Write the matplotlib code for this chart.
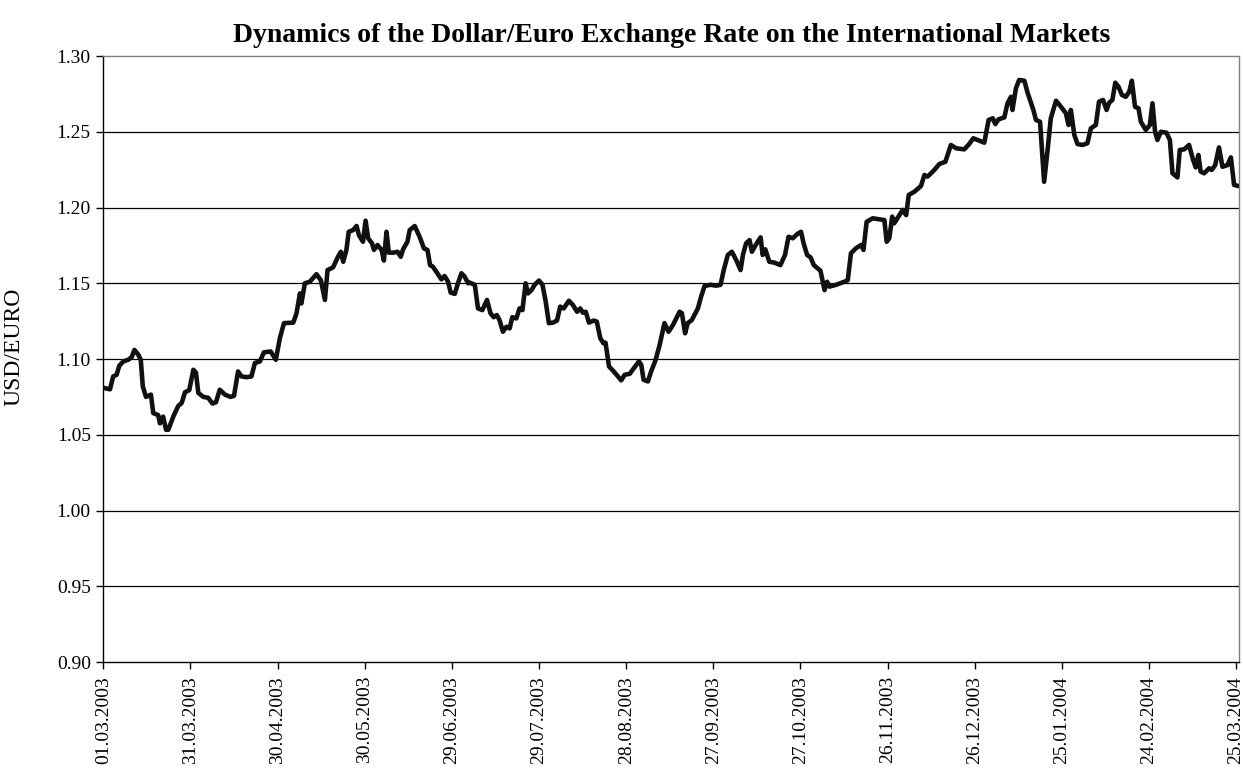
import matplotlib
matplotlib.use("Agg")
import matplotlib.pyplot as plt
import numpy as np

# Days since 01.03.2003
days = [0, 2.3, 3.4, 4.6, 5.5, 6.9, 8.6, 9.8, 10.7, 12.0, 12.9, 13.6, 14.7, 16.4, 17.2, 18.9, 19.5,
        20.6, 21.6, 22.4, 24.1, 25.8, 27.0, 28.1, 29.6, 31.0, 31.9, 32.7, 34.4, 36.1, 37.6, 38.8,
        40.1, 41.9, 43.8, 45.0, 46.4, 47.6, 49.3, 51.0, 52.2, 53.9, 55.3, 57.6, 59.4, 60.8, 62.2,
        65.4, 66.5, 67.7, 68.2, 69.4, 71.1, 73.4, 74.9, 76.3, 77.2, 79.1, 80.8, 81.8, 82.6, 83.7,
        84.5, 86.0, 87.2, 88.0, 89.4, 90.3, 91.2, 92.5, 93.2, 94.4, 95.8, 96.6, 97.5, 98.3, 99.8,
        101.3, 102.4, 103.2, 104.7, 105.5, 107.2, 108.9, 110.4, 111.6, 112.5, 113.5, 115.2, 116.4,
        117.5, 118.7, 119.6, 121.0, 122.1, 123.3, 124.4, 125.6,
        126.2, 127.9, 129.0, 130.5, 132.1, 133.3, 134.4, 135.5, 136.4, 137.6, 138.8, 139.9, 140.8,
        142.2, 143.3, 144.3, 145.4, 146.2, 147.4, 148.5, 150.0, 151.2, 152.3, 153.4, 154.8, 156.2,
        157.3, 158.5, 160.3, 161.7, 163.1, 164.2, 165.1, 166.1, 167.2, 168.8, 169.9, 171.1, 172.2,
        172.9, 174.1, 175.4, 177.2, 178.3, 179.5, 181.2, 182.9, 184.4, 185.2, 186.0, 187.5, 188.6,
        190.1, 191.5,
        193.2, 194.6, 196.1, 198.4, 199.2, 200.3, 201.2, 202.6, 204.7, 205.8, 207.0, 209.1, 211.0,
        212.5, 213.6, 215.0, 216.4, 217.9, 219.4, 220.2, 221.3, 222.5, 223.3, 224.8, 226.3, 227.0,
        227.9, 229.3, 231.1, 233.1, 234.7, 235.9, 237.4, 238.9, 240.2, 241.1, 242.3, 243.5, 244.6,
        246.9, 247.7, 248.3, 249.2, 250.0, 252.3, 255.1,
        256.3, 257.4, 259.1, 260.9, 261.7, 262.8, 264.9, 267.8, 268.9, 269.7, 270.6, 271.6, 272.3,
        274.1, 275.2, 276.4, 277.3, 279.2, 281.5, 282.7, 283.8, 286.1, 287.8, 289.9, 291.8, 293.6,
        296.4, 298.1, 299.5, 301.6, 303.3, 304.8, 306.2, 307.1, 308.2, 310.2, 311.3, 312.5, 313.0,
        314.2, 315.3, 317.1, 318.2,
        320.2, 321.1, 322.5, 323.9, 325.1, 326.2, 328.0, 329.7, 331.4, 332.3, 333.1, 334.3, 335.4,
        337.1, 338.8, 340.0, 341.7, 342.8, 344.2, 345.4, 346.3, 347.4, 348.4, 349.5, 350.7, 352.0,
        353.2, 354.1, 355.2, 356.4, 357.2, 358.9, 360.3, 361.2, 362.1, 362.9, 364.1, 366.0, 367.2,
        368.1, 369.8, 370.6, 372.1, 373.8, 375.2, 376.1, 377.0, 377.8, 379.0, 380.7, 381.6, 382.8,
        384.1, 385.3, 387.0, 388.2, 389.3, 390.8]

usd_euro = [1.081, 1.080, 1.0885, 1.0896, 1.0956, 1.0984, 1.0995, 1.1013, 1.106, 1.103, 1.0995,
            1.082, 1.075, 1.0765, 1.0643, 1.063, 1.0575, 1.062, 1.0533, 1.0533, 1.062, 1.069,
            1.071, 1.078, 1.0795, 1.0929, 1.091, 1.0777, 1.075, 1.0744, 1.0706, 1.0715, 1.0797,
            1.0765, 1.075, 1.0757, 1.0918, 1.0885, 1.088, 1.0885, 1.0974, 1.0984, 1.1044, 1.105,
            1.0995, 1.1138, 1.1237,
            1.124, 1.130, 1.1433, 1.1367, 1.150, 1.151, 1.156, 1.152, 1.139, 1.1587, 1.1605,
            1.1675, 1.1708, 1.1642, 1.172, 1.184, 1.1851, 1.1878, 1.1818, 1.1774, 1.1913, 1.1797,
            1.1764, 1.172, 1.1753, 1.172, 1.165, 1.184, 1.1702, 1.1702, 1.1708, 1.1675, 1.1724,
            1.1774, 1.1851, 1.1878, 1.1807, 1.173, 1.172, 1.162, 1.1609, 1.156, 1.1526, 1.1548,
            1.151, 1.1438, 1.143, 1.150, 1.1566, 1.1544, 1.150,
            1.1504, 1.149, 1.1334, 1.1323, 1.139, 1.1302, 1.1276, 1.129, 1.1257, 1.118, 1.1213,
            1.1202, 1.1276, 1.1268, 1.1334, 1.1323, 1.150, 1.1433, 1.1455, 1.149, 1.1518, 1.149,
            1.138, 1.1237, 1.124, 1.1254, 1.1346, 1.1334, 1.1385, 1.1356, 1.1312, 1.1334, 1.1306,
            1.1312, 1.124, 1.1254, 1.1247, 1.1137, 1.1104, 1.1108, 1.0951, 1.0925, 1.0885, 1.0859,
            1.0896, 1.0902, 1.0946, 1.0984, 1.0962, 1.0863, 1.0852, 1.0918, 1.0991, 1.109,
            1.1237, 1.118, 1.1224, 1.1312, 1.1302, 1.117, 1.1237, 1.1257, 1.1334, 1.1411, 1.1482,
            1.149, 1.1484, 1.149, 1.1587, 1.1687, 1.1708, 1.1653, 1.1587, 1.1687, 1.1764, 1.1785,
            1.1708, 1.1759, 1.1803, 1.1687, 1.1724, 1.1642, 1.1636, 1.162, 1.1687, 1.1807, 1.1797,
            1.1825, 1.184, 1.1764, 1.1687, 1.1671, 1.162, 1.1583, 1.151, 1.1455, 1.151, 1.1478,
            1.149, 1.151,
            1.1521, 1.1698, 1.1731, 1.1753, 1.172, 1.1906, 1.1929, 1.192, 1.1917, 1.1774, 1.1797,
            1.194, 1.1896, 1.195, 1.1984, 1.195, 1.2083, 1.2104, 1.2142, 1.2215, 1.2204, 1.2248,
            1.2287, 1.2302, 1.2413, 1.2391, 1.2384, 1.2419, 1.2457, 1.2441, 1.2428, 1.2578, 1.2589,
            1.2551, 1.2582, 1.2595, 1.2688, 1.2731, 1.2644, 1.2787, 1.2842, 1.2837, 1.2758,
            1.2644, 1.2578, 1.2566, 1.217, 1.238, 1.2589, 1.2705, 1.2665, 1.2622, 1.2545, 1.2644,
            1.2479, 1.2419, 1.2413, 1.2424, 1.2523, 1.2545, 1.2699, 1.271, 1.2644, 1.2692, 1.271,
            1.2824, 1.2797, 1.2743, 1.2731, 1.2764, 1.2837, 1.2665, 1.2655, 1.2566, 1.2512, 1.2545,
            1.2688, 1.25, 1.2446, 1.25, 1.2494, 1.2446, 1.2226, 1.2199, 1.238, 1.2384, 1.2413,
            1.2314, 1.2265, 1.2347, 1.2237, 1.2226, 1.2259, 1.2248, 1.228, 1.2397, 1.2269, 1.228,
            1.2331, 1.2149, 1.2142]

tick_days = [0, 30, 60, 90, 120, 150, 180, 210, 240, 270, 300, 330, 360, 390]
tick_labels = ["01.03.2003", "31.03.2003", "30.04.2003", "30.05.2003", "29.06.2003",
               "29.07.2003", "28.08.2003", "27.09.2003", "27.10.2003", "26.11.2003",
               "26.12.2003", "25.01.2004", "24.02.2004", "25.03.2004"]
y_ticks = [0.90, 0.95, 1.00, 1.05, 1.10, 1.15, 1.20, 1.25, 1.30]

plt.rcParams['font.family'] = ['Liberation Serif', 'DejaVu Serif']

fig = plt.figure(figsize=(12.43, 7.74), dpi=100)
ax = fig.add_axes([0.0831, 0.1447, 0.9137, 0.7829])

for v in y_ticks[1:-1]:
    ax.axhline(v, color='black', linewidth=0.9, zorder=1)

ax.plot(days, usd_euro, color='#111111', linewidth=3.3, solid_joinstyle='round',
        solid_capstyle='round', zorder=3)

ax.set_xlim(0, 391)
ax.set_ylim(0.90, 1.30)
ax.set_yticks(y_ticks)
ax.set_yticklabels([f"{v:.2f}" for v in y_ticks], fontsize=14)
ax.set_xticks(tick_days)
ax.set_xticklabels(tick_labels, rotation=90, fontsize=14)
ax.tick_params(axis='both', direction='out', length=5, width=1, color='black')
ax.tick_params(axis='x', pad=5)
ax.tick_params(axis='y', pad=4)

ax.spines['left'].set_color('black')
ax.spines['bottom'].set_color('black')
ax.spines['top'].set_color('#808080')
ax.spines['right'].set_color('#808080')
for s in ax.spines.values():
    s.set_linewidth(1.0)

ax.set_ylabel("USD/EURO", fontsize=17)
ax.yaxis.set_label_coords(-0.069, 0.52)
ax.set_title("Dynamics of the Dollar/Euro Exchange Rate on the International Markets",
             fontsize=20, fontweight='bold', pad=10)

fig.savefig("out.png", dpi=100)
